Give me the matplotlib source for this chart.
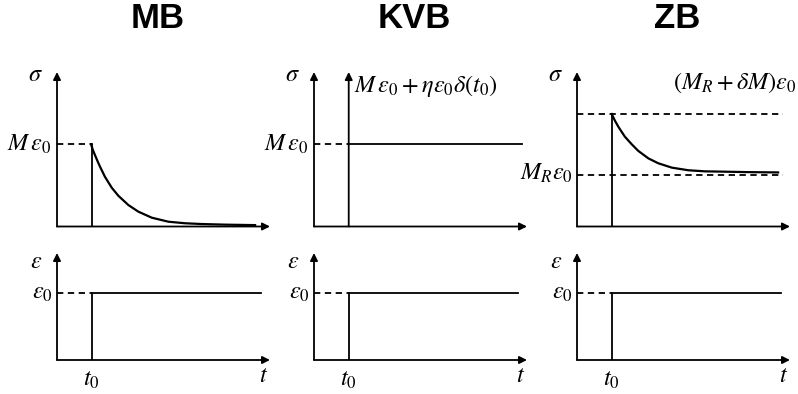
import matplotlib
matplotlib.use("Agg")
import matplotlib.pyplot as plt

plt.rcParams['mathtext.fontset'] = 'stix'
plt.rcParams['font.family'] = ['Liberation Sans', 'DejaVu Sans']

# ---- values (fractions of each time / stress axis) ----
titles = ['MB', 'KVB', 'ZB']
t0 = 0.163            # moment the strain step is applied
t_end = 0.96          # where the drawn curves stop
eps0 = 0.626          # strain step height (lower panels)

mb_sigma0 = 0.532
mb_t = [0.160, 0.168, 0.178, 0.190, 0.202, 0.225, 0.257, 0.288, 0.335, 0.382,
        0.445, 0.523, 0.601, 0.679, 0.789, 0.930]
mb_sigma = [0.532, 0.497, 0.463, 0.424, 0.387, 0.322, 0.251, 0.199, 0.139, 0.096,
            0.057, 0.031, 0.021, 0.016, 0.012, 0.009]

kvb_sigma0 = 0.532

zb_peak = 0.728
zb_relaxed = 0.331
zb_t = [0.163, 0.178, 0.194, 0.210, 0.225, 0.257, 0.288, 0.335, 0.382, 0.445,
        0.523, 0.601, 0.687, 0.800, 0.944]
zb_sigma = [0.728, 0.685, 0.646, 0.612, 0.581, 0.532, 0.489, 0.441, 0.409, 0.381,
            0.364, 0.357, 0.355, 0.352, 0.350]

# ---- layout in pixels ----
W, H = 798, 394
col_left = [57, 314, 577]
col_width = 213
top_bottom, top_top = 226.5, 72
bot_bottom, bot_top = 360, 253

LW = 1.3
DASH = (0, (3.5, 2.5))
MATH = 17.5

fig = plt.figure(figsize=(W / 100, H / 100), dpi=100)
fig.patch.set_facecolor('white')


def make_axes(left, bottom, top):
    ax = fig.add_axes([left / W, (H - bottom) / H, col_width / W, (bottom - top) / H])
    ax.set_xlim(0, 1)
    ax.set_ylim(0, 1)
    ax.set_axis_off()
    arrow = dict(arrowstyle='-|>', lw=LW, color='black', mutation_scale=11,
                 shrinkA=0, shrinkB=0)
    ax.annotate('', xy=(1.0, 0), xytext=(0, 0), arrowprops=arrow, annotation_clip=False)
    ax.annotate('', xy=(0, 1.0), xytext=(0, 0), arrowprops=arrow, annotation_clip=False)
    return ax


top_axes = [make_axes(l, top_bottom, top_top) for l in col_left]
bot_axes = [make_axes(l, bot_bottom, bot_top) for l in col_left]

for ax, title, l in zip(top_axes, titles, col_left):
    fig.text((l + col_width / 2 - 6) / W, (H - 19) / H, title, ha='center', va='center',
             fontsize=25, fontweight='bold')
    ax.text(-0.10, 0.98, r'$\sigma$', fontsize=MATH, ha='center', va='center')

# MB: Maxwell body, stress jumps then relaxes to zero
ax = top_axes[0]
ax.plot([0, t0], [mb_sigma0, mb_sigma0], color='black', lw=LW, ls=DASH)
ax.plot([t0, t0], [0, mb_sigma0], color='black', lw=LW)
ax.plot(mb_t, mb_sigma, color='black', lw=1.6, solid_joinstyle='round')
ax.text(-0.025, mb_sigma0, r'$M\,\varepsilon_0$', fontsize=MATH, ha='right', va='center')

# KVB: Kelvin-Voigt body, delta impulse then constant stress
ax = top_axes[1]
ax.plot([0, t0], [kvb_sigma0, kvb_sigma0], color='black', lw=LW, ls=DASH)
ax.plot([t0, 0.975], [kvb_sigma0, kvb_sigma0], color='black', lw=LW)
ax.annotate('', xy=(t0, 1.0), xytext=(t0, 0),
            arrowprops=dict(arrowstyle='-|>', lw=LW, color='black', mutation_scale=11,
                            shrinkA=0, shrinkB=0), annotation_clip=False)
ax.text(-0.025, kvb_sigma0, r'$M\,\varepsilon_0$', fontsize=MATH, ha='right', va='center')
ax.text(0.19, 0.91, r'$M\,\varepsilon_0+\eta\varepsilon_0\delta(t_0)$', fontsize=MATH,
        ha='left', va='center')

# ZB: Zener body, relaxes from unrelaxed to relaxed level
ax = top_axes[2]
ax.plot([0, 0.967], [zb_peak, zb_peak], color='black', lw=LW, ls=DASH)
ax.plot([0, 0.967], [zb_relaxed, zb_relaxed], color='black', lw=LW, ls=DASH)
ax.plot([t0, t0], [0, zb_peak], color='black', lw=LW)
ax.plot(zb_t, zb_sigma, color='black', lw=1.6, solid_joinstyle='round')
ax.text(1.03, 0.93, r'$\left(M_R+\delta M\right)\varepsilon_0$', fontsize=MATH,
        ha='right', va='center')
ax.text(-0.02, zb_relaxed + 0.01, r'$M_R\varepsilon_0$', fontsize=MATH, ha='right', va='center')

# strain step, identical for all three bodies
for ax in bot_axes:
    ax.plot([0, t0], [eps0, eps0], color='black', lw=LW, ls=DASH)
    ax.plot([t0, t0], [0, eps0], color='black', lw=LW)
    ax.plot([t0, t_end], [eps0, eps0], color='black', lw=LW)
    ax.text(-0.10, 0.92, r'$\varepsilon$', fontsize=MATH, ha='center', va='center')
    ax.text(-0.02, eps0, r'$\varepsilon_0$', fontsize=MATH, ha='right', va='center')
    ax.text(t0, -0.19, r'$t_0$', fontsize=MATH, ha='center', va='center')
    ax.text(0.97, -0.15, r'$t$', fontsize=MATH, ha='center', va='center')

fig.savefig('out.png', dpi=100)
